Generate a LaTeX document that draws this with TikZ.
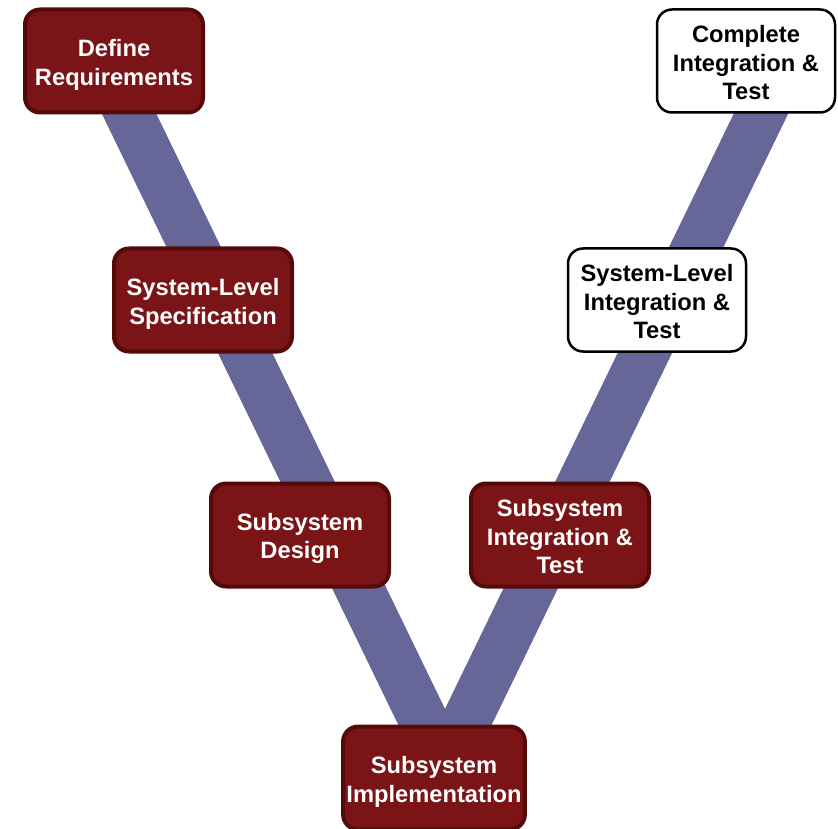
\documentclass[tikz,border=0pt]{standalone}
\usepackage{fontspec}
\setmainfont{Liberation Sans}
\usetikzlibrary{positioning}

\definecolor{stagered}{RGB}{122,20,22}
\definecolor{stageedge}{RGB}{85,10,10}
\definecolor{vblue}{RGB}{102,102,153}

\begin{document}
\begin{tikzpicture}[x=1pt,y=-1pt]
  \tikzset{
    stage/.style={draw=stageedge, fill=stagered, line width=4pt, text=white,
      rounded corners=15pt, minimum width=178pt, minimum height=103pt,
      text height=77.5pt, align=center,
      font=\fontsize{23.7}{28.5}\selectfont\bfseries},
    check/.style={stage, draw=black, fill=white, line width=2.5pt, text=black},
    pair/.style={text height=53pt},
    vband/.style={draw=vblue, line width=49pt, line join=round},
  }
  \useasboundingbox (0,0) rectangle (838,829);

  \coordinate (vleft) at (103,60);
  \coordinate (vbase) at (445,765);
  \coordinate (vright) at (787,60);
  \draw[vband] (vleft) -- (vbase) -- (vright);

  \node[stage,pair] (defreq) at (114,61) {Define\\Requirements};
  \node[stage,pair] (sysspec) at (203,300) {System-Level\\Specification};
  \node[stage,pair] (subdes) at (300,535) {Subsystem\\Design};
  \node[stage,pair] (subimp) at (434,778) {Subsystem\\Implementation};
  \node[stage] (subint) at (560,535) {Subsystem\\Integration \&\\Test};
  \node[check] (sysint) at (657,300) {System-Level\\Integration \&\\Test};
  \node[check] (compint) at (746,61) {Complete\\Integration \&\\Test};

\end{tikzpicture}
\end{document}
